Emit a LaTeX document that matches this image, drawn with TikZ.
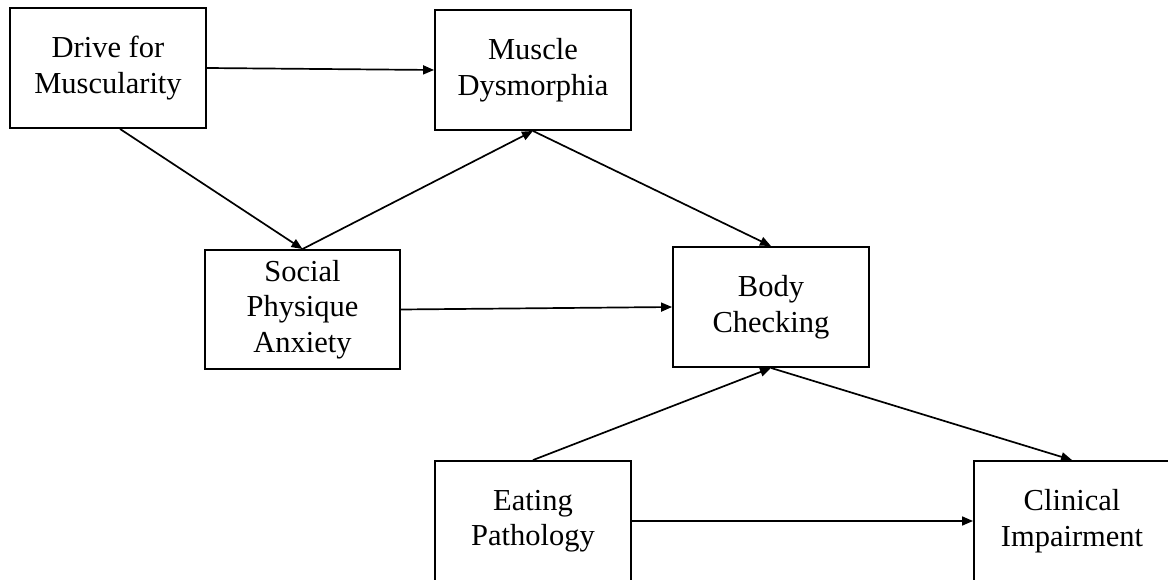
\documentclass[tikz,border=0pt]{standalone}
\usepackage{fontspec}
\setmainfont{Liberation Serif}
\usetikzlibrary{arrows.meta}
\begin{document}
\begin{tikzpicture}[x=1pt,y=-1pt,
  box/.style={draw,line width=1.9pt,minimum width=196pt,minimum height=120pt,inner sep=0pt,align=center,font=\fontsize{30.5}{35.5}\selectfont},
  arr/.style={line width=1.7pt,-{Triangle[length=11pt,width=9pt]}}]
\useasboundingbox (0,0) rectangle (1168,580);
\clip (0,0) rectangle (1168,580);
\fill[white] (0,0) rectangle (1168,580);
\node[box] (drive) at (108,68) {Drive for\\Muscularity};
\node[box] (muscle) at (533,70) {Muscle\\Dysmorphia};
\node[box,minimum width=195pt,minimum height=119pt] (social) at (302.5,309.5) {Social\\Physique\\Anxiety};
\node[box] (body) at (771,307) {Body\\Checking};
\node[box] (eating) at (533,521) {Eating\\Pathology};
\node[box] (clinical) at (1072,521) {Clinical\\Impairment};
\draw[arr] (drive.east) -- (muscle.west);
\draw[arr] ([xshift=12pt]drive.south) -- (social.north);
\draw[arr] (social.north) -- (muscle.south);
\draw[arr] (muscle.south) -- (body.north);
\draw[arr] (social.east) -- (body.west);
\draw[arr] (eating.north) -- (body.south);
\draw[arr] (body.south) -- (clinical.north);
\draw[arr] (eating.east) -- (clinical.west);
\end{tikzpicture}
\end{document}
